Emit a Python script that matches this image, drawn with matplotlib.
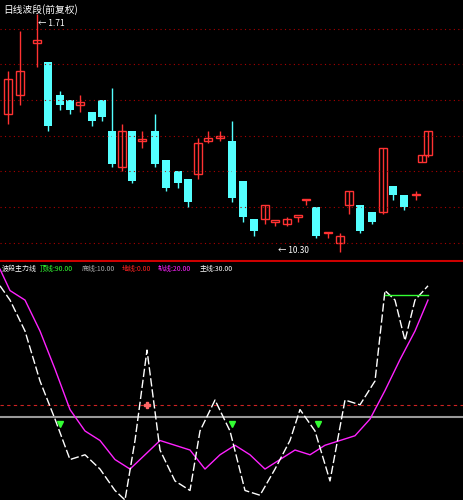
import matplotlib.pyplot as plt
import numpy as np

plt.rcParams['font.family'] = ['Noto Sans CJK SC', 'DejaVu Sans']

# candle data (price units, higher = up)
xs = [8,20,37,48,60,70,80,92,102,112,122,132,142,155,166,178,188,198,208,220,232,243,254,265,275,287,298,306,316,328,340,349,360,372,383,393,404,416,422,428]
opens  = [62,70,92,84,70,68,66,63,68,55,40,55,51,55,43,38,35,37,51,52,51,34,18,18,17,16,19,26,23,12,8,24,24,21,21,32,28,28,42,45]
closes = [77,80,93,57,66,64,67,59,61,41,55,34,51,41,31,33,25,50,52,53,27,19,13,24,17,18,19,26,11,12,11,30,13,17,48,28,23,28,45,55]
highs  = [80,97,104,84,72,68,70,63,68,73,58,55,55,62,43,38,35,52,55,55,59,34,18,24,17,19,19,26,23,12,12,30,24,21,48,32,28,30,45,55]
lows   = [58,66,82,55,64,62,63,57,59,40,38,33,48,40,30,31,23,35,50,51,25,17,11,16,15,15,17,24,10,10,4,20,12,16,20,26,22,26,42,44]

# indicator lines (0-100)
wx = [0,10,25,40,55,70,85,100,115,125,135,147,160,175,190,200,215,230,245,260,275,290,300,315,330,345,360,375,385,395,405,415,428]
wv = [90,84,71,50,34,17,19,13,4,0,25,63,21,8,4,29,42,29,4,2,13,25,38,29,8,42,40,50,88,84,67,84,90]
mx = [0,10,25,40,55,70,85,100,115,130,145,160,175,190,205,220,235,250,265,280,295,310,325,340,355,370,385,400,415,428]
mv = [97,88,84,71,55,38,29,25,17,13,19,25,23,21,13,19,23,19,13,17,21,19,23,25,27,34,46,59,71,84]

fig = plt.figure(figsize=(4.63, 5.0), dpi=100, facecolor='black')
ax1 = fig.add_axes([0, 0.476, 1, 0.524], facecolor='black')
ax2 = fig.add_axes([0, 0, 1, 0.476], facecolor='black')
for ax in (ax1, ax2):
    ax.set_xlim(0, 463)
    ax.set_xticks([]); ax.set_yticks([])
    for s in ax.spines.values():
        s.set_visible(False)

ax1.set_ylim(0, 110)
for gy in [8, 23, 38, 53, 68, 83, 98]:
    ax1.axhline(gy, color='#aa0000', ls=(0, (1, 3)), lw=0.8)
for x, o, c, h, l in zip(xs, opens, closes, highs, lows):
    if c >= o:
        ax1.vlines(x, l, h, color='#ff3232', lw=1)
        ax1.bar(x, max(c - o, 0.6), bottom=o, width=8, color='black', edgecolor='#ff3232', lw=1)
    else:
        ax1.vlines(x, l, h, color='#54ffff', lw=1)
        ax1.bar(x, o - c, bottom=c, width=8, color='#54ffff')
ax1.text(3, 106, '日线波段(前复权)', color='white', fontsize=7, va='center')
ax1.text(38, 100, '← 1.71', color='white', fontsize=6, va='center')
ax1.text(278, 5, '← 10.30', color='white', fontsize=6, va='center')
ax1.axhline(0.3, color='#cc0000', lw=1.5)

ax2.set_ylim(0, 100)
ax2.axhline(40, color='#cc2222', ls=(0, (3, 3)), lw=0.8)
ax2.axhline(35, color='#999999', lw=1.5)
ax2.plot(mx, mv, color='#ff22ff', lw=1)
ax2.plot(wx, wv, color='white', lw=1, ls=(0, (6, 2)))
ax2.plot([385, 428], [86, 86], color='#33ff33', lw=1)
for x in [60, 232, 318]:
    ax2.plot(x, 32, marker='v', color='#33ff33', ms=4)
ax2.plot(147, 40, marker='P', color='#ff6666', ms=4)
fs = 5
ax2.text(2, 97, '波段主力线', color='white', fontsize=fs, va='center')
ax2.text(40, 97, '顶线:90.00', color='#33ff33', fontsize=fs, va='center')
ax2.text(82, 97, '底线:10.00', color='#aaaaaa', fontsize=fs, va='center')
ax2.text(122, 97, '地线:0.00', color='#ff2222', fontsize=fs, va='center')
ax2.text(158, 97, '轨线:20.00', color='#ff22ff', fontsize=fs, va='center')
ax2.text(200, 97, '主线:30.00', color='white', fontsize=fs, va='center')

fig.savefig('out.png', dpi=100, facecolor='black')
